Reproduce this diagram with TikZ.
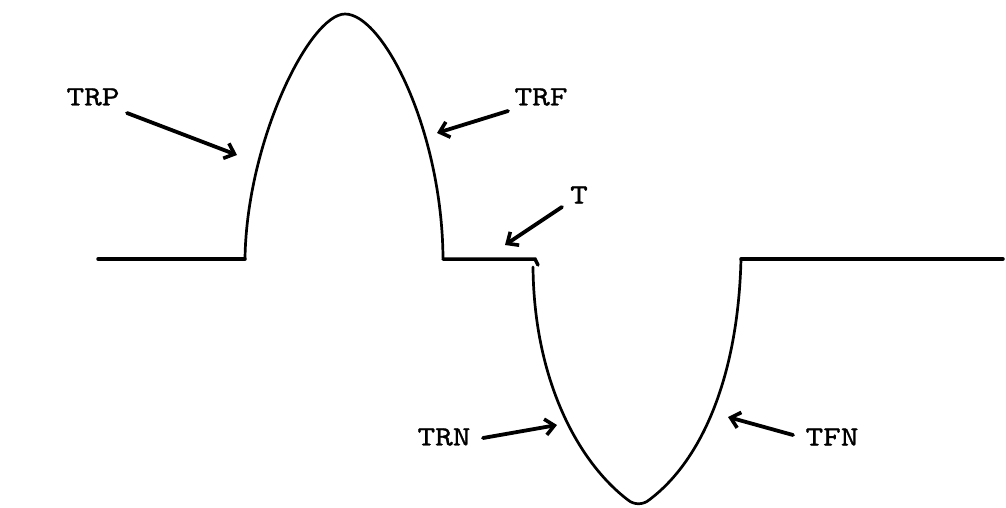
\documentclass[tikz,border=0pt]{standalone}
\usepackage{fontspec}
\usetikzlibrary{arrows.meta}
\newfontfamily\lblfont{lmmono10-regular.otf}[FakeStretch=1.2,FakeBold=1]
\tikzset{
  wave/.style={line width=2.7pt, line cap=round, line join=round},
  base/.style={line width=3.5pt, line cap=round},
  pointer/.style={line width=3.8pt, line cap=round,
    -{Straight Barb[length=9pt,width=16pt,line width=3.6pt]}},
  lbl/.style={font=\lblfont\fontsize{28}{30}\selectfont, inner sep=0pt}
}
\begin{document}
\begin{tikzpicture}[x=1pt,y=-1pt]
\useasboundingbox (0,0) rectangle (1006,507);

% flat baseline pieces
\draw[base] (98,259) -- (245,259);
\draw[base] (443,259) -- (535,259) -- (538,265);
\draw[base] (741,259) -- (1003,259);

% positive lobe
\draw[wave] (245,258) .. controls (247,140) and (310,14) .. (345,14)
                      .. controls (383,14) and (442,130) .. (443,258);

% negative lobe, with a slightly rounded bottom
\draw[wave] (533,267) .. controls (534,380) and (578,462) .. (628,500)
                      .. controls (634,505) and (643,505) .. (649,500)
                      .. controls (700,462) and (738,380) .. (741,259);

% labels
\node[lbl] (trp) at (93,97) {TRP};
\node[lbl] (trf) at (541,97) {TRF};
\node[lbl] (t)   at (579,195) {T};
\node[lbl] (trn) at (444,437) {TRN};
\node[lbl] (tfn) at (832,437) {TFN};

% arrow tips on the waveform
\coordinate (trpTip) at (237,155);
\coordinate (trfTip) at (437,133);
\coordinate (tTip)   at (505,245);
\coordinate (trnTip) at (557,425);
\coordinate (tfnTip) at (728,417);

% pointers
\draw[pointer] ([shift={(34,16)}]trp.center) -- (trpTip);
\draw[pointer] ([shift={(-33,14)}]trf.center) -- (trfTip);
\draw[pointer] ([shift={(-17,12)}]t.center) -- (tTip);
\draw[pointer] ([shift={(39,1)}]trn.center) -- (trnTip);
\draw[pointer] ([shift={(-39,-2)}]tfn.center) -- (tfnTip);
\end{tikzpicture}
\end{document}
